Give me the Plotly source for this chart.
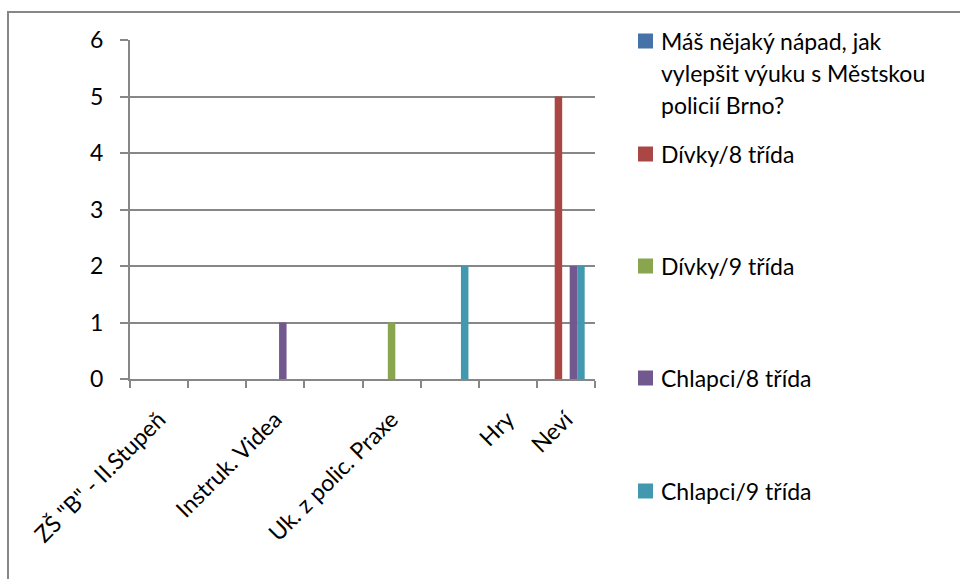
import plotly.graph_objects as go

# Categories (empty slots keep their place on the axis but carry no label)
categories = ['ZŠ "B" - II.Stupeň', '', 'Instruk. Videa', '', 'Uk. z polic. Praxe', '', 'Hry', 'Neví']

series_names = [
    'Máš nějaký nápad, jak vylepšit výuku s Městskou policií Brno?',
    'Dívky/8 třída',
    'Dívky/9 třída',
    'Chlapci/8 třída',
    'Chlapci/9 třída',
]

napad_values = [0, 0, 0, 0, 0, 0, 0, 0]
divky8_values = [0, 0, 0, 0, 0, 0, 0, 5]
divky9_values = [0, 0, 0, 0, 1, 0, 0, 0]
chlapci8_values = [0, 0, 1, 0, 0, 0, 0, 2]
chlapci9_values = [0, 0, 0, 0, 0, 2, 0, 2]

y_ticks = [0, 1, 2, 3, 4, 5, 6]

series_values = [napad_values, divky8_values, divky9_values, chlapci8_values, chlapci9_values]
colors = ['#4572A7', '#AA4643', '#89A54E', '#71588F', '#4198AF']

FONT = 'Lato'
FS = 23
GRID = '#878787'
W, H = 960, 579
L, R, T, B = 130, 595, 40, 379   # plot-area edges in pixels

def fx(px):
    return (px - L) / (R - L)

def fy(py):
    return (B - py) / (B - T)

xs = list(range(1, len(categories) + 1))

fig = go.Figure()
for name, vals, col in zip(series_names, series_values, colors):
    fig.add_trace(go.Bar(x=xs, y=vals, name=name, marker=dict(color=col, line=dict(width=0)),
                         showlegend=False))

fig.update_layout(
    width=W, height=H,
    margin=dict(l=L, r=W - R, t=T, b=H - B, pad=0),
    paper_bgcolor='white', plot_bgcolor='white',
    barmode='group', bargap=0.355, bargroupgap=0,
    font=dict(family=FONT, size=FS, color='black'),
)

fig.update_xaxes(
    range=[0.5, len(categories) + 0.5],
    tickvals=xs, ticktext=categories, tickangle=-45,
    ticks='', showgrid=False, zeroline=False,
    showline=True, linecolor=GRID, linewidth=2,
    ticklabelstandoff=16,
    tickfont=dict(family=FONT, size=FS, color='black'),
    minor=dict(tickvals=[x + 0.5 for x in [0] + xs], ticks='outside', ticklen=7,
               tickcolor=GRID, tickwidth=2, showgrid=False),
)

fig.update_yaxes(
    range=[0, 6], tickvals=y_ticks,
    ticks='outside', ticklen=8, tickcolor=GRID, tickwidth=1.5,
    showgrid=True, gridcolor=GRID, gridwidth=1.5, zeroline=False,
    showline=True, linecolor=GRID, linewidth=2,
    ticklabelstandoff=12,
    tickfont=dict(family=FONT, size=FS, color='black'),
)

shapes = []
annotations = []

# Chart frame
shapes.append(dict(type='rect', xref='paper', yref='paper',
                   x0=fx(8), x1=fx(W + 5), y0=fy(H + 5), y1=fy(12),
                   line=dict(color=GRID, width=2), fillcolor='rgba(0,0,0,0)', layer='above'))

# Legend: colour squares and wrapped labels
legend_lines = [
    ['Máš nějaký nápad, jak', 'vylepšit výuku s Městskou', 'policií Brno?'],
    ['Dívky/8 třída'],
    ['Dívky/9 třída'],
    ['Chlapci/8 třída'],
    ['Chlapci/9 třída'],
]
entry_top = [41, 154, 266, 378, 491]
line_step = 32
for col, lines, yc in zip(colors, legend_lines, entry_top):
    shapes.append(dict(type='rect', xref='paper', yref='paper',
                       x0=fx(638), x1=fx(653), y0=fy(yc + 7.5), y1=fy(yc - 7.5),
                       line=dict(width=0), fillcolor=col))
    for i, txt in enumerate(lines):
        annotations.append(dict(xref='paper', yref='paper', x=fx(659), y=fy(yc + i * line_step),
                                xanchor='left', yanchor='middle', text=txt, showarrow=False,
                                font=dict(family=FONT, size=FS, color='black')))

fig.update_layout(shapes=shapes, annotations=annotations)

fig.write_html('out.html')
